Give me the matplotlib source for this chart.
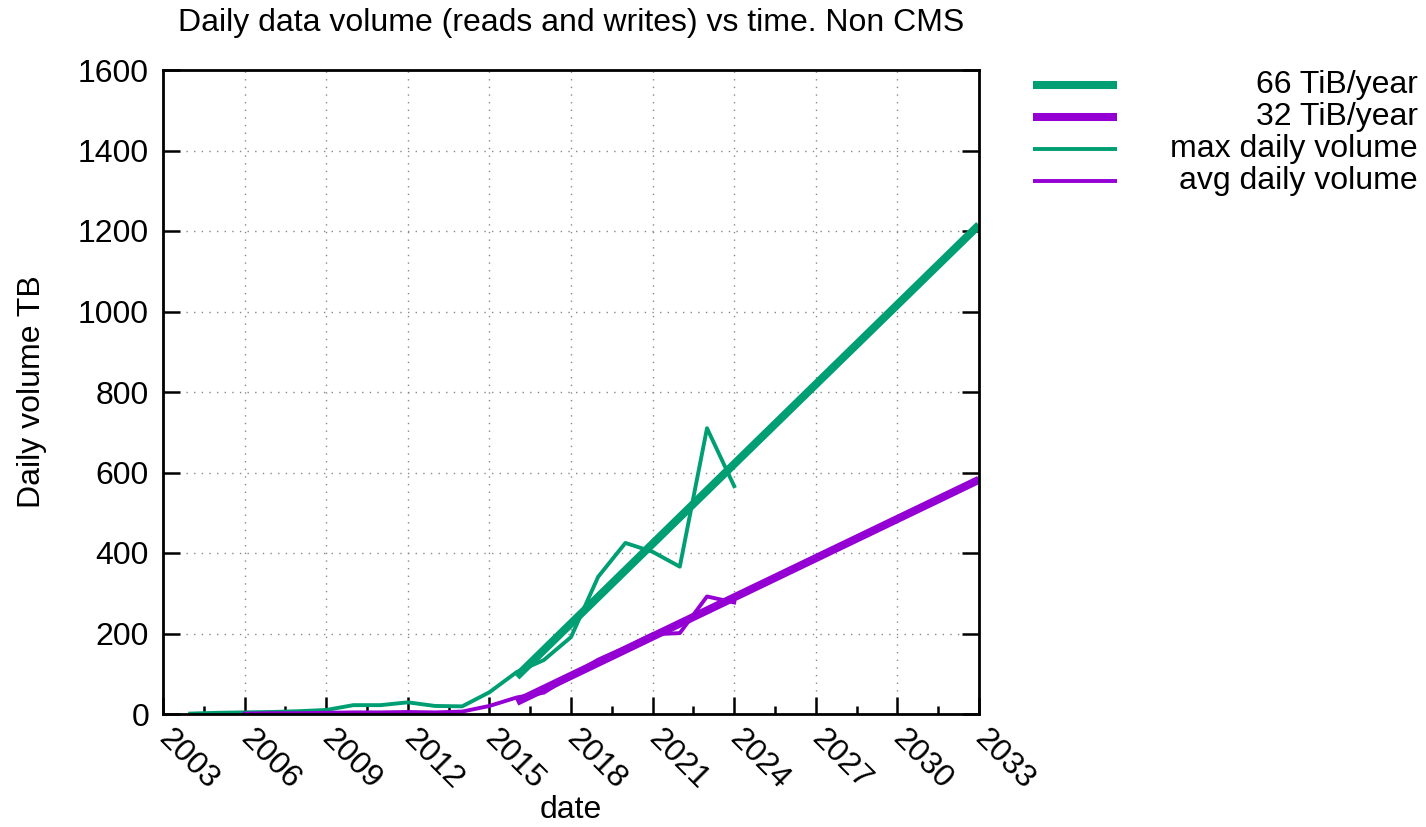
import matplotlib
matplotlib.use('Agg')
import matplotlib.pyplot as plt
from matplotlib.lines import Line2D

plt.rcParams['font.family'] = ['Liberation Sans', 'DejaVu Sans']

# data
years_max = [2004, 2005, 2006, 2007, 2008, 2009, 2010, 2011, 2012, 2013, 2014,
             2015, 2016, 2017, 2018, 2019, 2020, 2021, 2022, 2023, 2024]
max_vol = [1, 3, 4, 5, 7, 10, 22, 22, 29, 20, 19,
           54, 104, 134, 191, 341, 425, 403, 366, 710, 566]
years_avg = [2006, 2007, 2008, 2009, 2010, 2011, 2012, 2013, 2014, 2015,
             2016, 2017, 2018, 2019, 2020, 2021, 2022, 2023, 2024]
avg_vol = [1, 2, 2, 3, 4, 4, 5, 4, 6, 20,
           41, 53, 95, 135, 165, 198, 201, 292, 277]
trend_years = [2016, 2033]
trend_max = [93, 1215]
trend_avg = [30, 582]
labels = ['66 TiB/year', '32 TiB/year', 'max daily volume', 'avg daily volume']

green = '#009e73'
purple = '#9400d3'
fs = 23

fig = plt.figure(figsize=(14.26, 8.27), dpi=100)
ax = fig.add_axes([163/1426, 1-714/827, (979-163)/1426, (714-70)/827])

ax.plot(trend_years, trend_max, color=green, lw=5.8, solid_capstyle='butt')
ax.plot(trend_years, trend_avg, color=purple, lw=5.8, solid_capstyle='butt')
ax.plot(years_max, max_vol, color=green, lw=2.8)
ax.plot(years_avg, avg_vol, color=purple, lw=2.8)

ax.set_xlim(2003, 2033)
ax.set_ylim(0, 1600)
ax.set_xticks(range(2003, 2034, 3))
ax.set_xticks([y + 1.5 for y in range(2003, 2033, 3)], minor=True)
ax.set_yticks(range(0, 1601, 200))
ax.grid(True, which='major', color='#888888', linestyle=(0, (1, 4.5)), lw=1.0)
ax.tick_params(axis='both', which='major', direction='in', length=12, width=1.8,
               labelsize=fs, pad=10)
ax.tick_params(axis='x', which='major', pad=15)
ax.tick_params(axis='x', which='minor', direction='in', length=6, width=1.8)
ax.tick_params(axis='y', right=True)
for lab in ax.get_xticklabels():
    lab.set_rotation(-45)
    lab.set_ha('left')
    lab.set_va('center')
    lab.set_rotation_mode('anchor')
for s in ax.spines.values():
    s.set_linewidth(2)

ax.set_title('Daily data volume (reads and writes) vs time. Non CMS', fontsize=fs, pad=28)
ax.set_xlabel('date', fontsize=fs, labelpad=-1)
ax.set_ylabel('Daily volume TB', fontsize=fs, labelpad=22)

# gnuplot-style key: sample on the left, text right aligned
widths = [5.8, 5.8, 2.8, 2.8]
colors = [green, purple, green, purple]
for i in range(4):
    yy = 1 - (85 + 32*i)/827
    fig.add_artist(Line2D([1033/1426, 1117/1426], [yy, yy], color=colors[i], lw=widths[i],
                          solid_capstyle='butt'))
    fig.text(1418/1426, yy, labels[i], ha='right', va='center', fontsize=fs)

fig.savefig('out.png', dpi=100)
